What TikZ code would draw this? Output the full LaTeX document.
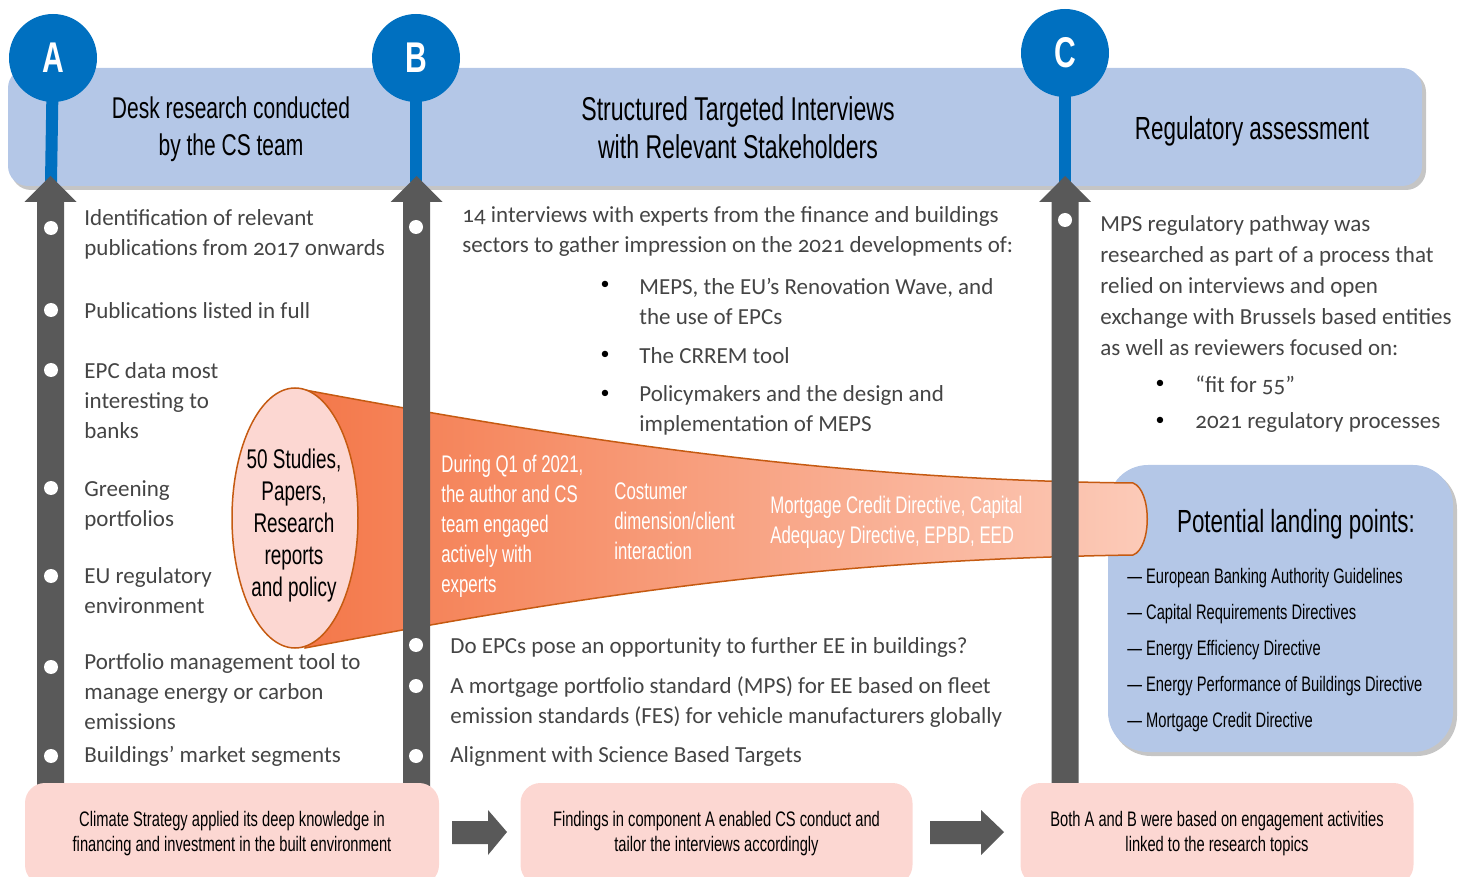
\documentclass[tikz,border=0pt]{standalone}
\usepackage{fontspec}
\setmainfont[Numbers=OldStyle]{Carlito}
\newfontfamily\agency[FakeStretch=0.7]{Liberation Sans}
\usetikzlibrary{shapes.geometric}

\definecolor{bandblue}{HTML}{B4C7E7}
\definecolor{pinblue}{HTML}{0070C0}
\definecolor{shaftgrey}{HTML}{595959}
\definecolor{boxpink}{HTML}{FCD7D2}
\definecolor{funnelorange}{HTML}{F4784A}
\definecolor{funnellight}{HTML}{FCCBB9}
\definecolor{funneledge}{HTML}{C55A11}
\definecolor{bodygrey}{HTML}{444444}

\tikzset{
  hdr/.style={align=center,font=\agency\fontsize{16}{18.5}\selectfont},
  pin/.style={circle,fill=pinblue,minimum size=44pt,inner sep=0pt,text=white,
    font=\agency\bfseries\fontsize{21.5}{24}\selectfont},
  stem/.style={pinblue,line width=6pt},
  item/.style={anchor=west,align=left,inner sep=0pt,text=bodygrey,
    font=\fontsize{11.5}{15}\selectfont},
  dot/.style={circle,fill=white,minimum size=7pt,inner sep=0pt},
  subdot/.style={inner sep=0pt,text=black,font=\fontsize{9}{10}\selectfont},
  funtxt/.style={anchor=west,align=left,inner sep=0pt,text=white,
    font=\agency\fontsize{12}{15}\selectfont},
  lpitem/.style={anchor=west,inner sep=0pt,font=\agency\fontsize{10.5}{12}\selectfont},
  botbox/.style={fill=boxpink,rounded corners=10pt,minimum height=51pt,align=center,
    inner sep=0pt,font=\agency\fontsize{10.5}{12.5}\selectfont}
}

\begin{document}
\begin{tikzpicture}[x=0.5pt,y=-0.5pt]
  \useasboundingbox (0,0) rectangle (1458,877);

  % header band and landing box
  \fill[black!45,opacity=.5,rounded corners=10pt] (11,72) rectangle (1426,190);
  \fill[bandblue,rounded corners=10pt] (8,68) rectangle (1422,186);
  \fill[black!45,opacity=.5,rounded corners=20pt] (1111,469) rectangle (1457,756);
  \fill[bandblue,rounded corners=20pt] (1108,465) rectangle (1453,752);

  % funnel
  \path[left color=funnelorange,right color=funnellight,draw=funneledge,line width=.75pt]
    (305,390) .. controls (600,445) and (850,480) .. (1133,483)
    .. controls (1152,490) and (1152,548) .. (1133,555)
    .. controls (800,560) and (560,600) .. (305,648) -- cycle;
  \node[ellipse,fill=boxpink,draw=funneledge,line width=.75pt,minimum width=63pt,
    minimum height=130pt,inner sep=0pt] (studies) at (295,518) {};
  \node[align=center,inner sep=0pt,font=\agency\fontsize{13.5}{16}\selectfont]
    (studiestxt) at (294,526) {50 Studies,\\Papers,\\Research\\reports\\and policy};

  % pins and shafts
  \coordinate (tipA) at (51,182);
  \coordinate (tipB) at (416,182);
  \coordinate (tipC) at (1065,182);
  \draw[stem] (53,58) -- (tipA);
  \draw[stem] (416,58) -- (tipB);
  \draw[stem] (1065,53) -- (tipC);
  \node[pin] (pinA) at (53,58) {A};
  \node[pin] (pinB) at (416,58) {B};
  \node[pin] (pinC) at (1065,53) {C};
  \foreach \sx in {50.5,416.5,1065}
    \fill[shaftgrey] (\sx-13.5,790) -- (\sx-13.5,202) -- (\sx-26,202) -- (\sx,176)
      -- (\sx+26,202) -- (\sx+13.5,202) -- (\sx+13.5,790) -- cycle;

  % headers
  \node[hdr,font=\agency\fontsize{15}{18.5}\selectfont] (hdrA) at (231,129) {Desk research conducted\\by the CS team};
  \node[hdr,font=\agency\fontsize{16.5}{19}\selectfont] (hdrB) at (738,128) {Structured Targeted Interviews\\with Relevant Stakeholders};
  \node[hdr] (hdrC) at (1252,131) {Regulatory assessment};

  % column A
  \foreach \y in {228,310,370,488,576,667,756}
    \node[dot] (dA\y) at (51,\y) {};
  \node[item] (itA1) at (84,234) {Identification of relevant\\publications from 2017 onwards};
  \node[item] (itA2) at (84,311) {Publications listed in full};
  \node[item] (itA3) at (84,401) {EPC data most\\interesting to\\banks};
  \node[item] (itA4) at (84,505) {Greening\\portfolios};
  \node[item] (itA5) at (84,591) {EU regulatory\\environment};
  \node[item] (itA6) at (84,692) {Portfolio management tool to\\manage energy or carbon\\emissions};
  \node[item] (itA7) at (84,756) {Buildings’ market segments};

  % column B
  \foreach \y in {227,645,686,756}
    \node[dot] (dB\y) at (416,\y) {};
  \node[item] (itB1) at (462,231) {14 interviews with experts from the finance and buildings\\sectors to gather impression on the 2021 developments of:};
  \foreach \y in {285,355,394}
    \node[subdot] (sB\y) at (605,\y) {•};
  \node[item] (subB1) at (639,301) {MEPS, the EU’s Renovation Wave, and\\the use of EPCs};
  \node[item] (subB2) at (639,356) {The CRREM tool};
  \node[item] (subB3) at (639,410) {Policymakers and the design and\\implementation of MEPS};
  \node[item] (itB2) at (450,647) {Do EPCs pose an opportunity to further EE in buildings?};
  \node[item] (itB3) at (450,702) {A mortgage portfolio standard (MPS) for EE based on fleet\\emission standards (FES) for vehicle manufacturers globally};
  \node[item] (itB4) at (450,756) {Alignment with Science Based Targets};

  % column C
  \node[dot] (dC1) at (1065,220) {};
  \node[item,font=\fontsize{11.5}{15.5}\selectfont] (itC1) at (1100,286) {MPS regulatory pathway was\\researched as part of a process that\\relied on interviews and open\\exchange with Brussels based entities\\as well as reviewers focused on:};
  \node[subdot] (sC1) at (1160,384) {•};
  \node[subdot] (sC2) at (1160,421) {•};
  \node[item] (subC1) at (1195,385) {“fit for 55”};
  \node[item] (subC2) at (1195,422) {2021 regulatory processes};

  % funnel texts
  \node[funtxt] (fun1) at (441,526) {During Q1 of 2021,\\the author and CS\\team engaged\\actively with\\experts};
  \node[funtxt] (fun2) at (614,521) {Costumer\\dimension/client\\interaction};
  \node[funtxt] (fun3) at (770,522) {Mortgage Credit Directive, Capital\\Adequacy Directive, EPBD, EED};

  % landing points
  \node[font=\agency\fontsize{16}{18}\selectfont] (lptitle) at (1296,524) {Potential landing points:};
  \foreach \txt [count=\i] in {European Banking Authority Guidelines,Capital Requirements Directives,
      Energy Efficiency Directive,Energy Performance of Buildings Directive,Mortgage Credit Directive}
    \node[lpitem] (lp\i) at (1127,542+36*\i) {—\ \txt};

  % bottom boxes
  \node[botbox,minimum width=207pt] (boxA) at (232,834) {Climate Strategy applied its deep knowledge in\\financing and investment in the built environment};
  \node[botbox,minimum width=196pt] (boxB) at (716.5,834) {Findings in component A enabled CS conduct and\\tailor the interviews accordingly};
  \node[botbox,minimum width=196.5pt] (boxC) at (1217,834) {Both A and B were based on engagement activities\\linked to the research topics};
  \fill[shaftgrey] (452,821) -- (488,821) -- (488,810) -- (507,832) -- (488,855) -- (488,844) -- (452,844) -- cycle;
  \fill[shaftgrey] (930,821) -- (981,821) -- (981,810) -- (1004,832) -- (981,855) -- (981,844) -- (930,844) -- cycle;
\end{tikzpicture}
\end{document}
